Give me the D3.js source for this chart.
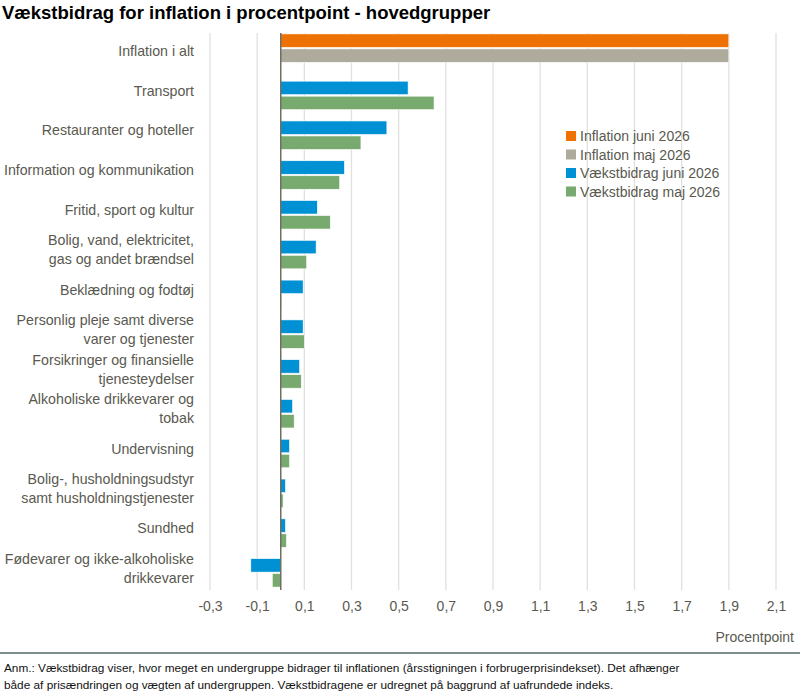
<!DOCTYPE html>
<html>
<head>
<meta charset="utf-8">
<script src="https://cdn.jsdelivr.net/npm/d3@7"></script>
<style>
    body { margin: 0; background: #fff; }
    text { font-family: "Liberation Sans", Arial, sans-serif; }
</style>
</head>
<body>
<svg id="chart" width="800" height="692"></svg>
<script>
const categories = [
    "Inflation i alt",
    "Transport",
    "Restauranter og hoteller",
    "Information og kommunikation",
    "Fritid, sport og kultur",
    "Bolig, vand, elektricitet,|gas og andet brændsel",
    "Beklædning og fodtøj",
    "Personlig pleje samt diverse|varer og tjenester",
    "Forsikringer og finansielle|tjenesteydelser",
    "Alkoholiske drikkevarer og|tobak",
    "Undervisning",
    "Bolig-, husholdningsudstyr|samt husholdningstjenester",
    "Sundhed",
    "Fødevarer og ikke-alkoholiske|drikkevarer"
];

// første række er inflationen i alt, resten er vækstbidrag
const juni = [1.9, 0.54, 0.45, 0.27, 0.155, 0.15, 0.095, 0.095, 0.08, 0.05, 0.037, 0.02, 0.02, -0.127];
const maj = [1.9, 0.65, 0.34, 0.25, 0.21, 0.11, 0.003, 0.10, 0.087, 0.057, 0.037, 0.01, 0.024, -0.036];

const tickValues = [-0.3, -0.1, 0.1, 0.3, 0.5, 0.7, 0.9, 1.1, 1.3, 1.5, 1.7, 1.9, 2.1];

const legendLabels = ["Inflation juni 2026", "Inflation maj 2026", "Vækstbidrag juni 2026", "Vækstbidrag maj 2026"];
const legendColors = ["#ee7203", "#aeab9c", "#0091d5", "#78aa6f"];

const noteLines = [
    "Anm.: Vækstbidrag viser, hvor meget en undergruppe bidrager til inflationen (årsstigningen i forbrugerprisindekset). Det afhænger",
    "både af prisændringen og vægten af undergruppen. Vækstbidragene er udregnet på baggrund af uafrundede indeks."
];

document.addEventListener("DOMContentLoaded", drawChart);

function drawChart() {
    const svg = d3.select("svg#chart");
    const textColor = "#595950";

    const x = d3.scaleLinear().domain([-0.3, 2.1]).range([210, 776]);
    const y = d3.scaleBand().domain(categories).range([31, 588]);

    const locale = d3.formatLocale({ decimal: ",", thousands: ".", grouping: [3], currency: ["", " kr."], minus: "-" });
    const fmt = locale.format(".1f");

    // Titel
    svg.append("text")
        .attr("x", 2)
        .attr("y", 19)
        .attr("font-size", 18.5)
        .attr("font-weight", "bold")
        .attr("fill", "#000")
        .text("Vækstbidrag for inflation i procentpoint - hovedgrupper");

    // Gitterlinjer
    svg.append("g")
        .selectAll("line")
        .data(tickValues)
        .join("line")
        .attr("x1", d => x(d))
        .attr("x2", d => x(d))
        .attr("y1", 33)
        .attr("y2", 590)
        .attr("stroke", "#e1e1dc")
        .attr("stroke-width", 1.3);

    // Søjler
    const barH = 13.5;
    const rows = svg.append("g")
        .selectAll("g")
        .data(categories)
        .join("g")
        .attr("transform", (d, i) => {
            const off = i === 0 ? -17 : -9.5;
            return `translate(0,${y(d) + y.bandwidth() / 2 + off})`;
        });

    rows.append("rect")
        .attr("x", (d, i) => x(Math.min(0, juni[i])))
        .attr("y", 0)
        .attr("width", (d, i) => Math.abs(x(juni[i]) - x(0)))
        .attr("height", barH)
        .attr("fill", (d, i) => i === 0 ? legendColors[0] : legendColors[2])
        .attr("stroke", "#fff")
        .attr("stroke-width", 0.6);

    rows.append("rect")
        .attr("x", (d, i) => x(Math.min(0, maj[i])))
        .attr("y", barH + 1.5)
        .attr("width", (d, i) => Math.abs(x(maj[i]) - x(0)))
        .attr("height", barH)
        .attr("fill", (d, i) => i === 0 ? legendColors[1] : legendColors[3])
        .attr("stroke", "#fff")
        .attr("stroke-width", 0.6);

    // Nullinje
    svg.append("line")
        .attr("x1", x(0))
        .attr("x2", x(0))
        .attr("y1", 33)
        .attr("y2", 590)
        .attr("stroke", "#6e6e62")
        .attr("stroke-width", 1.5);

    // Kategorietiketter
    const labels = svg.append("g")
        .selectAll("text")
        .data(categories)
        .join("text")
        .attr("text-anchor", "end")
        .attr("font-size", 14.2)
        .attr("fill", textColor);

    labels.each(function(d) {
        const parts = d.split("|");
        const cy = y(d) + y.bandwidth() / 2;
        const lineH = 19;
        const start = cy - (parts.length - 1) * lineH / 2 + 5;
        d3.select(this).selectAll("tspan")
            .data(parts)
            .join("tspan")
            .attr("x", 194)
            .attr("y", (p, j) => start + j * lineH)
            .text(p => p);
    });

    // x-akse
    const axis = svg.append("g")
        .attr("transform", "translate(0,598)")
        .call(d3.axisBottom(x).tickValues(tickValues).tickFormat(fmt).tickSize(0));
    axis.select(".domain").remove();
    axis.selectAll("text")
        .attr("font-size", 14)
        .attr("fill", textColor)
        .attr("font-family", "Liberation Sans, Arial, sans-serif");

    svg.append("text")
        .attr("x", 794)
        .attr("y", 642)
        .attr("text-anchor", "end")
        .attr("font-size", 14)
        .attr("fill", textColor)
        .text("Procentpoint");

    // Forklaring
    const legend = svg.append("g")
        .selectAll("g")
        .data(legendLabels)
        .join("g")
        .attr("transform", (d, i) => `translate(566,${136 + i * 18.5})`);

    legend.append("rect")
        .attr("x", 0)
        .attr("y", -5)
        .attr("width", 10)
        .attr("height", 10)
        .attr("fill", (d, i) => legendColors[i]);

    legend.append("text")
        .attr("x", 14)
        .attr("y", 5)
        .attr("font-size", 14)
        .attr("fill", textColor)
        .text(d => d);

    // Skillelinje og note
    svg.append("line")
        .attr("x1", 0)
        .attr("x2", 800)
        .attr("y1", 653)
        .attr("y2", 653)
        .attr("stroke", "#7f8c8d")
        .attr("stroke-width", 2);

    svg.append("g")
        .selectAll("text")
        .data(noteLines)
        .join("text")
        .attr("x", 4)
        .attr("y", (d, i) => 672 + i * 16.5)
        .attr("font-size", 11.8)
        .attr("fill", "#111")
        .text(d => d);
}
</script>
</body>
</html>
